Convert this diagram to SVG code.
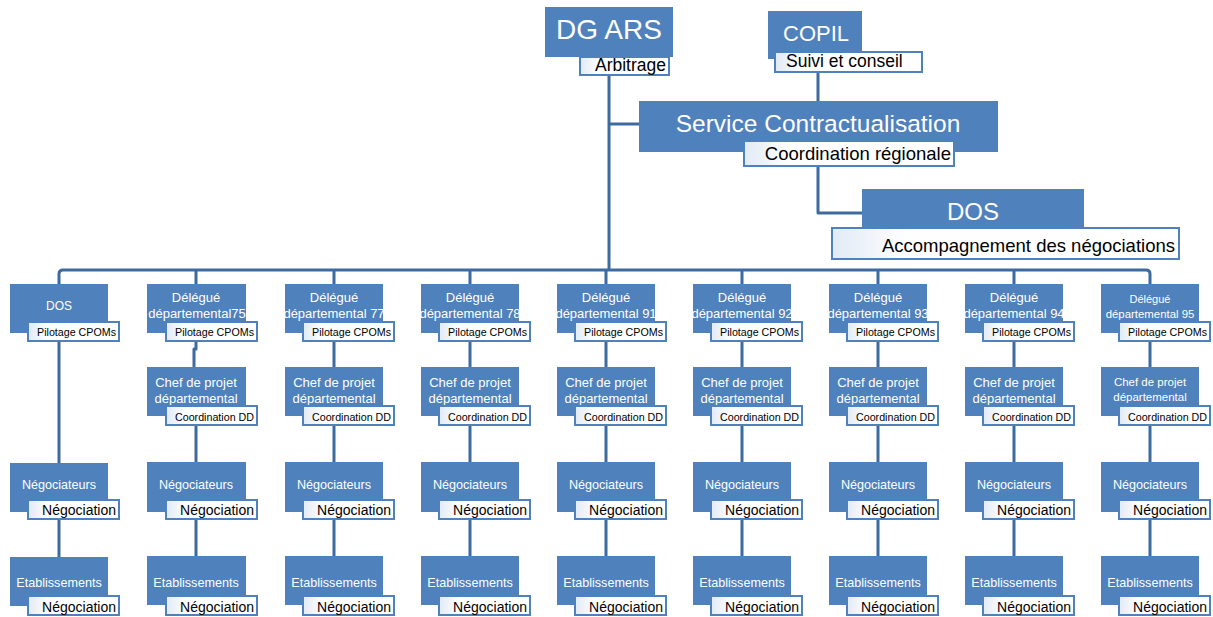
<svg xmlns="http://www.w3.org/2000/svg" width="1213" height="617" viewBox="0 0 1213 617">
<style>
.box{fill:#4f81bd}
.lbl{fill:url(#lg);stroke:#4f81bd;stroke-width:2}
.w{fill:#ffffff;font-family:"Liberation Sans",Arial,sans-serif}
.k{fill:#000000;font-family:"Liberation Sans",Arial,sans-serif}
.m{text-anchor:middle}
.e{text-anchor:end}
.conn{stroke:#3e6b9f;stroke-width:3;fill:none;stroke-linejoin:round}
.s13{font-size:13px}
.s115{font-size:11.5px}
.s107{font-size:10.7px}
.s14{font-size:14px}
.s125{font-size:12.6px}
</style>
<defs>
<linearGradient id="lg" x1="0" y1="0" x2="1" y2="0">
<stop offset="0" stop-color="#e1eaf5"/>
<stop offset="0.22" stop-color="#ffffff"/>
<stop offset="1" stop-color="#ffffff"/>
</linearGradient>
</defs>
<rect width="1213" height="617" fill="#ffffff"/>
<g id="connectors">
<path class="conn" d="M609 75 V270"/>
<path class="conn" d="M609 124 H639"/>
<path class="conn" d="M818 72 V101"/>
<path class="conn" d="M818 166 V213 H862"/>
<path class="conn" d="M59 284 V274 Q59 270 63 270 H1146 Q1150 270 1150 274 V284"/>
<path class="conn" d="M196 270 V284 M334 270 V284 M470 270 V284 M606 270 V284 M742 270 V284 M878 270 V284 M1014 270 V284"/>
<path class="conn" d="M59 340 V463 M59 518 V557"/>
<path class="conn" d="M196 341 V349 H194 V367 M196 425 V462 M196 519 V556"/>
<path class="conn" d="M334 341 V367 M334 425 V462 M334 519 V556"/>
<path class="conn" d="M470 341 V367 M470 425 V462 M470 519 V556"/>
<path class="conn" d="M606 341 V367 M606 425 V462 M606 519 V556"/>
<path class="conn" d="M742 341 V367 M742 425 V462 M742 519 V556"/>
<path class="conn" d="M878 341 V367 M878 425 V462 M878 519 V556"/>
<path class="conn" d="M1014 341 V367 M1014 425 V462 M1014 519 V556"/>
<path class="conn" d="M1150 341 V367 M1150 425 V462 M1150 519 V556"/>
</g>
<g id="dg-ars">
<rect class="box" x="545" y="7" width="128" height="50"/>
<text class="w m" x="609" y="39" font-size="28">DG ARS</text>
<rect class="lbl" x="580" y="57" width="89" height="18"/>
<text class="k e" x="666" y="71" font-size="17.5">Arbitrage</text>
</g>
<g id="copil">
<rect class="box" x="768" y="11" width="94" height="48"/>
<text class="w" x="783" y="41" font-size="22">COPIL</text>
<rect class="lbl" x="775" y="52" width="147" height="20"/>
<text class="k" x="786" y="67" font-size="17.5">Suivi et conseil</text>
</g>
<g id="service-contractualisation">
<rect class="box" x="639" y="101" width="359" height="51"/>
<text class="w m" x="818" y="132" font-size="24.5">Service Contractualisation</text>
<rect class="lbl" x="744" y="141" width="210" height="25"/>
<text class="k e" x="951" y="160" font-size="18.5">Coordination régionale</text>
</g>
<g id="dos-top">
<rect class="box" x="862" y="189" width="222" height="42"/>
<text class="w m" x="973" y="220" font-size="24">DOS</text>
<rect class="lbl" x="832" y="228" width="347" height="31"/>
<text class="k e" x="1175" y="252" font-size="18.5">Accompagnement des négociations</text>
</g>

<g id="col1-dos">
<rect class="box" x="10" y="284" width="98" height="49"/>
<text class="w m" x="59" y="310" font-size="12">DOS</text>
<rect class="lbl" x="28" y="322" width="91" height="19"/>
<text class="k e s107" x="116" y="336">Pilotage CPOMs</text>
</g>
<g id="col1-negociateurs">
<rect class="box" x="10" y="463" width="98" height="49"/>
<text class="w m s125" x="59" y="489">Négociateurs</text>
<rect class="lbl" x="28" y="500" width="91" height="19"/>
<text class="k e s14" x="116" y="515">Négociation</text>
</g>
<g id="col1-etablissements">
<rect class="box" x="10" y="557" width="98" height="49"/>
<text class="w m s125" x="59" y="587">Etablissements</text>
<rect class="lbl" x="28" y="596" width="91" height="19"/>
<text class="k e s14" x="116" y="612">Négociation</text>
</g>

<g id="col2-delegue75">
<rect class="box" x="147" y="284" width="99" height="49"/>
<text class="w m s13" x="196" y="302">Délégué</text>
<text class="w m s13" x="197" y="318">départemental75</text>
<rect class="lbl" x="166" y="322" width="91" height="19"/>
<text class="k e s107" x="254" y="336">Pilotage CPOMs</text>
</g>
<g id="col2-chef">
<rect class="box" x="147" y="367" width="99" height="49"/>
<text class="w m s13" x="196" y="387">Chef de projet</text>
<text class="w m s13" x="196" y="403">départemental</text>
<rect class="lbl" x="166" y="406" width="91" height="19"/>
<text class="k e s107" x="254" y="421">Coordination DD</text>
</g>
<g id="col2-negociateurs">
<rect class="box" x="147" y="462" width="99" height="50"/>
<text class="w m s125" x="196" y="489">Négociateurs</text>
<rect class="lbl" x="166" y="500" width="91" height="19"/>
<text class="k e s14" x="254" y="515">Négociation</text>
</g>
<g id="col2-etablissements">
<rect class="box" x="147" y="556" width="99" height="49"/>
<text class="w m s125" x="196" y="587">Etablissements</text>
<rect class="lbl" x="166" y="596" width="91" height="19"/>
<text class="k e s14" x="254" y="612">Négociation</text>
</g>

<g id="col3-delegue77">
<rect class="box" x="285" y="284" width="98" height="49"/>
<text class="w m s13" x="334" y="302">Délégué</text>
<text class="w m s13" x="334" y="318">départemental 77</text>
<rect class="lbl" x="303" y="322" width="91" height="19"/>
<text class="k e s107" x="391" y="336">Pilotage CPOMs</text>
</g>
<g id="col3-chef">
<rect class="box" x="285" y="367" width="98" height="49"/>
<text class="w m s13" x="334" y="387">Chef de projet</text>
<text class="w m s13" x="334" y="403">départemental</text>
<rect class="lbl" x="303" y="406" width="91" height="19"/>
<text class="k e s107" x="391" y="421">Coordination DD</text>
</g>
<g id="col3-negociateurs">
<rect class="box" x="285" y="462" width="98" height="50"/>
<text class="w m s125" x="334" y="489">Négociateurs</text>
<rect class="lbl" x="303" y="500" width="91" height="19"/>
<text class="k e s14" x="391" y="515">Négociation</text>
</g>
<g id="col3-etablissements">
<rect class="box" x="285" y="556" width="98" height="49"/>
<text class="w m s125" x="334" y="587">Etablissements</text>
<rect class="lbl" x="303" y="596" width="91" height="19"/>
<text class="k e s14" x="391" y="612">Négociation</text>
</g>

<g id="col4-delegue78">
<rect class="box" x="421" y="284" width="98" height="49"/>
<text class="w m s13" x="470" y="302">Délégué</text>
<text class="w m s13" x="470" y="318">départemental 78</text>
<rect class="lbl" x="439" y="322" width="91" height="19"/>
<text class="k e s107" x="527" y="336">Pilotage CPOMs</text>
</g>
<g id="col4-chef">
<rect class="box" x="421" y="367" width="98" height="49"/>
<text class="w m s13" x="470" y="387">Chef de projet</text>
<text class="w m s13" x="470" y="403">départemental</text>
<rect class="lbl" x="439" y="406" width="91" height="19"/>
<text class="k e s107" x="527" y="421">Coordination DD</text>
</g>
<g id="col4-negociateurs">
<rect class="box" x="421" y="462" width="98" height="50"/>
<text class="w m s125" x="470" y="489">Négociateurs</text>
<rect class="lbl" x="439" y="500" width="91" height="19"/>
<text class="k e s14" x="527" y="515">Négociation</text>
</g>
<g id="col4-etablissements">
<rect class="box" x="421" y="556" width="98" height="49"/>
<text class="w m s125" x="470" y="587">Etablissements</text>
<rect class="lbl" x="439" y="596" width="91" height="19"/>
<text class="k e s14" x="527" y="612">Négociation</text>
</g>

<g id="col5-delegue91">
<rect class="box" x="557" y="284" width="98" height="49"/>
<text class="w m s13" x="606" y="302">Délégué</text>
<text class="w m s13" x="606" y="318">départemental 91</text>
<rect class="lbl" x="575" y="322" width="91" height="19"/>
<text class="k e s107" x="663" y="336">Pilotage CPOMs</text>
</g>
<g id="col5-chef">
<rect class="box" x="557" y="367" width="98" height="49"/>
<text class="w m s13" x="606" y="387">Chef de projet</text>
<text class="w m s13" x="606" y="403">départemental</text>
<rect class="lbl" x="575" y="406" width="91" height="19"/>
<text class="k e s107" x="663" y="421">Coordination DD</text>
</g>
<g id="col5-negociateurs">
<rect class="box" x="557" y="462" width="98" height="50"/>
<text class="w m s125" x="606" y="489">Négociateurs</text>
<rect class="lbl" x="575" y="500" width="91" height="19"/>
<text class="k e s14" x="663" y="515">Négociation</text>
</g>
<g id="col5-etablissements">
<rect class="box" x="557" y="556" width="98" height="49"/>
<text class="w m s125" x="606" y="587">Etablissements</text>
<rect class="lbl" x="575" y="596" width="91" height="19"/>
<text class="k e s14" x="663" y="612">Négociation</text>
</g>

<g id="col6-delegue92">
<rect class="box" x="693" y="284" width="98" height="49"/>
<text class="w m s13" x="742" y="302">Délégué</text>
<text class="w m s13" x="742" y="318">départemental 92</text>
<rect class="lbl" x="711" y="322" width="91" height="19"/>
<text class="k e s107" x="799" y="336">Pilotage CPOMs</text>
</g>
<g id="col6-chef">
<rect class="box" x="693" y="367" width="98" height="49"/>
<text class="w m s13" x="742" y="387">Chef de projet</text>
<text class="w m s13" x="742" y="403">départemental</text>
<rect class="lbl" x="711" y="406" width="91" height="19"/>
<text class="k e s107" x="799" y="421">Coordination DD</text>
</g>
<g id="col6-negociateurs">
<rect class="box" x="693" y="462" width="98" height="50"/>
<text class="w m s125" x="742" y="489">Négociateurs</text>
<rect class="lbl" x="711" y="500" width="91" height="19"/>
<text class="k e s14" x="799" y="515">Négociation</text>
</g>
<g id="col6-etablissements">
<rect class="box" x="693" y="556" width="98" height="49"/>
<text class="w m s125" x="742" y="587">Etablissements</text>
<rect class="lbl" x="711" y="596" width="91" height="19"/>
<text class="k e s14" x="799" y="612">Négociation</text>
</g>

<g id="col7-delegue93">
<rect class="box" x="829" y="284" width="98" height="49"/>
<text class="w m s13" x="878" y="302">Délégué</text>
<text class="w m s13" x="878" y="318">départemental 93</text>
<rect class="lbl" x="847" y="322" width="91" height="19"/>
<text class="k e s107" x="935" y="336">Pilotage CPOMs</text>
</g>
<g id="col7-chef">
<rect class="box" x="829" y="367" width="98" height="49"/>
<text class="w m s13" x="878" y="387">Chef de projet</text>
<text class="w m s13" x="878" y="403">départemental</text>
<rect class="lbl" x="847" y="406" width="91" height="19"/>
<text class="k e s107" x="935" y="421">Coordination DD</text>
</g>
<g id="col7-negociateurs">
<rect class="box" x="829" y="462" width="98" height="50"/>
<text class="w m s125" x="878" y="489">Négociateurs</text>
<rect class="lbl" x="847" y="500" width="91" height="19"/>
<text class="k e s14" x="935" y="515">Négociation</text>
</g>
<g id="col7-etablissements">
<rect class="box" x="829" y="556" width="98" height="49"/>
<text class="w m s125" x="878" y="587">Etablissements</text>
<rect class="lbl" x="847" y="596" width="91" height="19"/>
<text class="k e s14" x="935" y="612">Négociation</text>
</g>

<g id="col8-delegue94">
<rect class="box" x="965" y="284" width="98" height="49"/>
<text class="w m s13" x="1014" y="302">Délégué</text>
<text class="w m s13" x="1014" y="318">départemental 94</text>
<rect class="lbl" x="983" y="322" width="91" height="19"/>
<text class="k e s107" x="1071" y="336">Pilotage CPOMs</text>
</g>
<g id="col8-chef">
<rect class="box" x="965" y="367" width="98" height="49"/>
<text class="w m s13" x="1014" y="387">Chef de projet</text>
<text class="w m s13" x="1014" y="403">départemental</text>
<rect class="lbl" x="983" y="406" width="91" height="19"/>
<text class="k e s107" x="1071" y="421">Coordination DD</text>
</g>
<g id="col8-negociateurs">
<rect class="box" x="965" y="462" width="98" height="50"/>
<text class="w m s125" x="1014" y="489">Négociateurs</text>
<rect class="lbl" x="983" y="500" width="91" height="19"/>
<text class="k e s14" x="1071" y="515">Négociation</text>
</g>
<g id="col8-etablissements">
<rect class="box" x="965" y="556" width="98" height="49"/>
<text class="w m s125" x="1014" y="587">Etablissements</text>
<rect class="lbl" x="983" y="596" width="91" height="19"/>
<text class="k e s14" x="1071" y="612">Négociation</text>
</g>

<g id="col9-delegue95">
<rect class="box" x="1101" y="284" width="98" height="49"/>
<text class="w m" x="1150" y="303" font-size="11">Délégué</text>
<text class="w m" x="1150" y="318" font-size="11.4">départemental 95</text>
<rect class="lbl" x="1119" y="322" width="91" height="19"/>
<text class="k e s107" x="1207" y="336">Pilotage CPOMs</text>
</g>
<g id="col9-chef">
<rect class="box" x="1101" y="367" width="98" height="49"/>
<text class="w m s115" x="1150" y="386">Chef de projet</text>
<text class="w m s115" x="1150" y="401">départemental</text>
<rect class="lbl" x="1119" y="406" width="91" height="19"/>
<text class="k e s107" x="1207" y="421">Coordination DD</text>
</g>
<g id="col9-negociateurs">
<rect class="box" x="1101" y="462" width="98" height="50"/>
<text class="w m s125" x="1150" y="489">Négociateurs</text>
<rect class="lbl" x="1119" y="500" width="91" height="19"/>
<text class="k e s14" x="1207" y="515">Négociation</text>
</g>
<g id="col9-etablissements">
<rect class="box" x="1101" y="556" width="98" height="49"/>
<text class="w m s125" x="1150" y="587">Etablissements</text>
<rect class="lbl" x="1119" y="596" width="91" height="19"/>
<text class="k e s14" x="1207" y="612">Négociation</text>
</g>
</svg>
